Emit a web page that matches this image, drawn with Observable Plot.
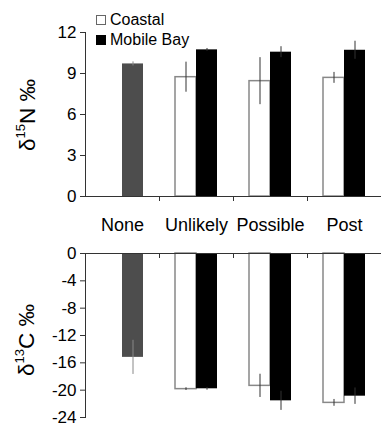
<!DOCTYPE html>
<html><head><meta charset="utf-8">
<script src="https://cdn.jsdelivr.net/npm/d3@7"></script>
<script src="https://cdn.jsdelivr.net/npm/@observablehq/plot@0.6"></script>
<style>
body{margin:0;background:#fff;font-family:"Liberation Sans",Arial,sans-serif;}
#wrap{position:relative;width:381px;height:423px;overflow:hidden;background:#fff;}
#wrap svg{display:block;}
.ytitle{position:absolute;font-size:22.5px;white-space:nowrap;color:#000;transform:translate(-50%,-50%) rotate(-90deg);}
.ytitle sup{font-size:13px;vertical-align:10px;line-height:0;}
.leg{position:absolute;left:96px;font-size:16px;color:#000;display:flex;align-items:center;white-space:nowrap;}
.leg span.sw{display:inline-block;width:8px;height:8px;margin-right:4px;}
</style></head>
<body>
<div id="wrap">
  <div id="top"></div>
  <div id="bottom"></div>
  <div class="ytitle" style="left:28px;top:115px;">δ<sup>15</sup>N ‰</div>
  <div class="ytitle" style="left:27px;top:340px;">δ<sup>13</sup>C ‰</div>
  <div class="leg" style="top:11px;"><span class="sw" style="border:1px solid #666;background:#fff;"></span>Coastal</div>
  <div class="leg" style="top:31px;"><span class="sw" style="border:1px solid #000;background:#000;"></span>Mobile Bay</div>
</div>
<script>
const categories = ["None", "Unlikely", "Possible", "Post"];
const seriesNames = ["Coastal", "Mobile Bay"];

const n15Coastal   = [null, 8.73, 8.44, 8.68];
const n15CoastalSd = [null, 1.1, 1.72, 0.4];
const n15Bay       = [9.7, 10.73, 10.56, 10.70];
const n15BaySd     = [0.15, 0.1, 0.4, 0.66];

const c13Coastal   = [null, -19.85, -19.37, -21.86];
const c13CoastalSd = [null, 0.2, 1.7, 0.5];
const c13Bay       = [-15.2, -19.8, -21.56, -20.88];
const c13BaySd     = [2.5, 0.2, 1.4, 1.2];

const n15Ticks = [0, 3, 6, 9, 12];
const c13Ticks = [0, -4, -8, -12, -16, -20, -24];

function rows(vals, sds, series) {
  return categories.map((c, i) => ({cat: c, series, value: vals[i], sd: sds[i]}))
    .filter(d => d.value != null);
}

const font = '"Liberation Sans", Arial, sans-serif';

function panel({coastal, bay, domain, ticks, height, marginTop, marginBottom, top}) {
  const marks = [
    Plot.axisY({ticks, tickFormat: d => String(d), tickSize: 5, tickPadding: 4, fontSize: 17, label: null, stroke: "#333", fill: "#000"}),
    Plot.frame({anchor: "left", stroke: "#333"}),
    Plot.barY(coastal, {x: "cat", y: "value", fill: "white", stroke: "#888", strokeWidth: 1.5, insetLeft: 16, insetRight: 37}),
    Plot.barY(bay.filter(d => d.cat !== "None"), {x: "cat", y: "value", fill: "#000", insetLeft: 37, insetRight: 16}),
    Plot.barY(bay.filter(d => d.cat === "None"), {x: "cat", y: "value", fill: "#4d4d4d", insetLeft: 37, insetRight: 16}),
    Plot.ruleX(coastal, {x: "cat", y1: d => d.value - d.sd, y2: d => d.value + d.sd, dx: -10.5, stroke: "#333"}),
    Plot.ruleX(bay.filter(d => d.cat !== "None"), {x: "cat", y1: d => d.value - d.sd, y2: d => d.value + d.sd, dx: 10.5, stroke: "#333"}),
    Plot.ruleX(bay.filter(d => d.cat === "None"), {x: "cat", y1: d => d.value - d.sd, y2: d => d.value + d.sd, dx: 10.5, stroke: "#888"}),
    Plot.ruleY([0], {stroke: "#333"}),
    // boundary tick marks hanging below the zero line
    Plot.ruleX(categories, {x: d => d, y1: 0, y2: 0, insetBottom: -5, dx: 37, stroke: "#333"})
  ];
  if (top) {
    marks.push(Plot.axisX({tickSize: 0, tickPadding: 22, fontSize: 18, label: null, fill: "#000"}));
  }
  return Plot.plot({
    width: 381, height, marginLeft: 85, marginRight: 0, marginTop, marginBottom,
    style: {fontFamily: font, fontSize: "17px", color: "#000", background: "white", overflow: "visible"},
    x: {type: "band", domain: categories, padding: 0, axis: null},
    y: {domain, axis: null},
    marks
  });
}

document.getElementById("top").append(panel({
  coastal: rows(n15Coastal, n15CoastalSd, seriesNames[0]),
  bay: rows(n15Bay, n15BaySd, seriesNames[1]),
  domain: [0, 12], ticks: n15Ticks, height: 237, marginTop: 32, marginBottom: 41, top: true
}));
document.getElementById("bottom").append(panel({
  coastal: rows(c13Coastal, c13CoastalSd, seriesNames[0]),
  bay: rows(c13Bay, c13BaySd, seriesNames[1]),
  domain: [-24, 0], ticks: c13Ticks, height: 186, marginTop: 16, marginBottom: 6, top: false
}));
</script>
</body></html>
